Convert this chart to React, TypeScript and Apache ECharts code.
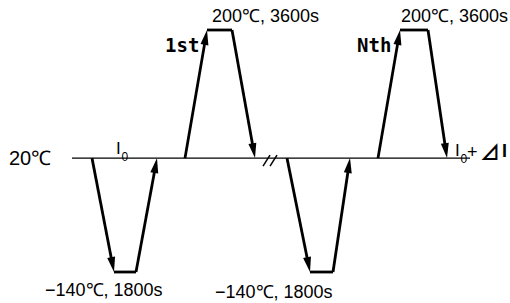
import React, { useEffect, useRef } from "react";
import * as echarts from "echarts";

// Schematic thermal cycle: time (arbitrary units) vs temperature (°C)
const BASE_TEMP = 20;
const HIGH_TEMP = 200;
const LOW_TEMP = -140;

const cycle1Times = [22, 44, 66, 87, 115, 137, 162, 185];
const cycle1Temps = [20, -140, -140, 20, 20, 200, 200, 20];
const cycleNTimes = [217, 240, 263, 280, 308, 330, 358, 377];
const cycleNTemps = [20, -140, -140, 20, 20, 200, 200, 20];
const baselineTimes = [2, 400];
const breakTimes = [196, 203];

const baseLabel = "20℃";
const highLabel = "200℃, 3600s";
const lowLabel = "−140℃, 1800s";
const cycleNames = ["1st", "Nth"];
const startSymbol = "I";
const startSub = "0";
const endPlus = "+";
const endDelta = "⊿";
const endI = "I";

function cycleSegments(times: number[], temps: number[]) {
  const segs: number[][] = [];
  for (let i = 0; i < times.length - 1; i++) {
    const flat = temps[i] === temps[i + 1];
    if (flat && temps[i] === BASE_TEMP) continue;
    segs.push([times[i], temps[i], times[i + 1], temps[i + 1], flat ? 0 : 1]);
  }
  return segs;
}

export default function App() {
  const ref = useRef<HTMLDivElement>(null);
  useEffect(() => {
    document.body.style.margin = "0";
    const chart = echarts.init(ref.current!, null, { renderer: "svg" });
    const segs: number[][] = [
      [baselineTimes[0], BASE_TEMP, baselineTimes[1], BASE_TEMP, 2],
      ...cycleSegments(cycle1Times, cycle1Temps),
      ...cycleSegments(cycleNTimes, cycleNTemps),
      ...breakTimes.map((t) => [t, BASE_TEMP, t, BASE_TEMP, 3]),
    ];
    const font = "'Liberation Sans', Arial, sans-serif";
    const mono = "'DejaVu Sans Mono', monospace";
    const txt = (text: string, x: number, y: number, size: number, extra: any = {}) => ({
      type: "text",
      x,
      y,
      style: { text, fontSize: size, fontFamily: font, fill: "#000", align: "left", verticalAlign: "middle", ...extra },
    });
    chart.setOption({
      animation: false,
      backgroundColor: "#fff",
      grid: { left: 70, right: 38, top: 30, bottom: 31 },
      xAxis: { type: "value", min: 0, max: 402, show: false },
      yAxis: { type: "value", min: LOW_TEMP, max: HIGH_TEMP, show: false },
      series: [
        {
          type: "custom",
          clip: false,
          encode: { x: [0, 2], y: [1, 3] },
          data: segs,
          renderItem: (params: any, api: any) => {
            const t1 = api.value(0), v1 = api.value(1), t2 = api.value(2), v2 = api.value(3);
            const kind = api.value(4);
            const p1 = api.coord([t1, v1]);
            const p2 = api.coord([t2, v2]);
            const stroke = { stroke: "#000", lineWidth: 2.8, lineCap: "butt" };
            if (kind === 3) {
              return {
                type: "line",
                shape: { x1: p1[0] - 3, y1: p1[1] + 8, x2: p1[0] + 4, y2: p1[1] - 3 },
                style: { stroke: "#000", lineWidth: 1.5 },
              };
            }
            if (kind === 2) {
              return { type: "line", shape: { x1: p1[0], y1: p1[1], x2: p2[0], y2: p2[1] }, style: { stroke: "#000", lineWidth: 1.2 } };
            }
            if (kind === 0) {
              return { type: "line", shape: { x1: p1[0], y1: p1[1], x2: p2[0], y2: p2[1] }, style: stroke };
            }
            const dx = p2[0] - p1[0], dy = p2[1] - p1[1];
            const len = Math.sqrt(dx * dx + dy * dy);
            const ux = dx / len, uy = dy / len;
            const nx = -uy, ny = ux;
            const al = 15, hw = 4;
            const bx = p2[0] - ux * al, by = p2[1] - uy * al;
            return {
              type: "group",
              children: [
                { type: "line", shape: { x1: p1[0], y1: p1[1], x2: p2[0] - ux * 9, y2: p2[1] - uy * 9 }, style: stroke },
                {
                  type: "polygon",
                  shape: { points: [[p2[0], p2[1]], [bx + nx * hw, by + ny * hw], [bx - nx * hw, by - ny * hw]] },
                  style: { fill: "#000" },
                },
              ],
            };
          },
        },
      ],
      graphic: [
        txt(baseLabel, 9, 158, 20),
        txt(highLabel, 212, 16, 18),
        txt(highLabel, 401, 16, 18),
        txt(lowLabel, 45, 290, 18),
        txt(lowLabel, 215, 292, 18),
        txt(cycleNames[0], 165, 45, 19, { fontFamily: mono, fontWeight: "bold" }),
        txt(cycleNames[1], 357, 45, 19, { fontFamily: mono, fontWeight: "bold" }),
        txt(startSymbol, 116, 148, 17),
        txt(startSub, 121.5, 157, 12),
        txt(startSymbol, 455, 150, 17),
        txt(startSub, 460.5, 159, 12),
        txt(endPlus, 467, 152, 18),
        txt(endDelta, 480, 151, 20, { fontFamily: "'Noto Sans CJK JP', sans-serif", fontWeight: "bold" }),
        txt(endI, 502, 151, 18, { fontWeight: "bold" }),
      ],
    });
    return () => chart.dispose();
  }, []);
  return <div ref={ref} style={{ width: 510, height: 303 }} />;
}
